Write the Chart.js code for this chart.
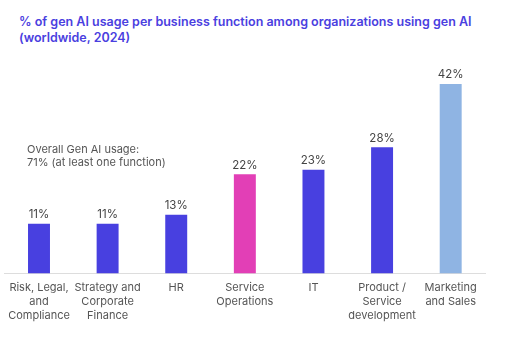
<!DOCTYPE html>
<html>
<head>
<meta charset="utf-8">
<script src="https://cdn.jsdelivr.net/npm/chart.js@4.4.1/dist/chart.umd.min.js"></script>
<style>
  html, body { margin: 0; padding: 0; background: #fff; }
  #wrap { position: relative; width: 507px; height: 343px; }
  #title {
    position: absolute; left: 19px; top: 14px;
    font-family: Inter, "Noto Sans", sans-serif; font-weight: 600;
    font-size: 12.5px; line-height: 16px; color: #4a40e0;
  }
  canvas { position: absolute; left: 0; top: 0; }
</style>
</head>
<body>
<div id="wrap">
  <div id="title">% of gen AI usage per business function among organizations using gen AI<br>(worldwide, 2024)</div>
  <canvas id="c" width="507" height="343"></canvas>
</div>
<script>
// data
const categories = [
  ['Risk, Legal,', 'and', 'Compliance'],
  ['Strategy and', 'Corporate', 'Finance'],
  ['HR'],
  ['Service', 'Operations'],
  ['IT'],
  ['Product /', 'Service', 'development'],
  ['Marketing', 'and Sales']
];
const usage = [11, 11, 13, 22, 23, 28, 42];
const barColors = ['#4840e0', '#4840e0', '#4840e0', '#e23fb6', '#4840e0', '#4840e0', '#8fb4e3'];
const noteLines = ['Overall Gen AI usage:', '71% (at least one function)'];

const FONT = 'Inter, "Noto Sans", sans-serif';

// percent labels above each bar
const valueLabels = {
  id: 'valueLabels',
  afterDatasetsDraw(chart) {
    const ctx = chart.ctx;
    const meta = chart.getDatasetMeta(0);
    ctx.save();
    ctx.font = '11.5px ' + FONT;
    ctx.fillStyle = '#444';
    ctx.textAlign = 'center';
    ctx.textBaseline = 'middle';
    meta.data.forEach((bar, i) => {
      ctx.fillText(usage[i] + '%', bar.x, bar.y - 9);
    });
    ctx.restore();
  }
};

// overall usage note
const note = {
  id: 'note',
  afterDraw(chart) {
    const ctx = chart.ctx;
    ctx.save();
    ctx.font = '11px ' + FONT;
    ctx.fillStyle = '#555';
    ctx.textAlign = 'left';
    ctx.textBaseline = 'middle';
    noteLines.forEach((t, i) => ctx.fillText(t, 27, 150 + i * 13));
    ctx.restore();
  }
};

new Chart(document.getElementById('c'), {
  type: 'bar',
  data: {
    labels: categories,
    datasets: [{
      data: usage,
      backgroundColor: barColors,
      categoryPercentage: 1,
      barPercentage: 0.32
    }]
  },
  options: {
    responsive: false,
    animation: false,
    layout: { padding: { left: 2, right: 22, top: 66, bottom: 13 } },
    plugins: { legend: { display: false }, tooltip: { enabled: false } },
    scales: {
      x: {
        grid: { display: false, drawTicks: false },
        border: { display: true, color: '#dddddd', width: 1 },
        ticks: {
          color: '#555',
          padding: 8,
          maxRotation: 0,
          autoSkip: false,
          font: { family: FONT, size: 11, lineHeight: 1.23 }
        }
      },
      y: { display: false, min: 0, max: 46 }
    }
  },
  plugins: [valueLabels, note]
});
</script>
</body>
</html>
